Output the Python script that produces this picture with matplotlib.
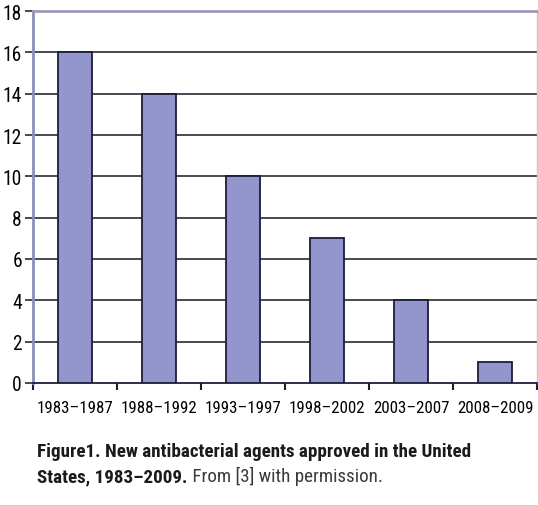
import matplotlib
matplotlib.use("Agg")
import matplotlib.pyplot as plt
from matplotlib import font_manager
import numpy as np

periods = ["1983–1987", "1988–1992", "1993–1997", "1998–2002", "2003–2007", "2008–2009"]
approved = [16, 14, 10, 7, 4, 1]
y_ticks = [0, 2, 4, 6, 8, 10, 12, 14, 16, 18]
caption_bold_1 = "Figure1. New antibacterial agents approved in the United"
caption_bold_2 = "States, 1983–2009."
caption_rest = " From [3] with permission."

# narrowest family we can find
names = set(f.name for f in font_manager.fontManager.ttflist)
fam = "DejaVu Sans"
for cand in ["Roboto Condensed", "Liberation Sans Narrow", "Open Sans Condensed", "Roboto", "Liberation Sans"]:
    if cand in names:
        fam = cand
        break
plt.rcParams["font.family"] = [fam, "DejaVu Sans"]

bar_color = "#9296cc"
edge_color = "#1c1c3c"
grid_color = "#2a2a3a"

fig = plt.figure(figsize=(5.38, 5.06), dpi=100)
ax = fig.add_axes([33 / 538, 1 - 384 / 506, 504 / 538, 372 / 506])
renderer = fig.canvas.get_renderer()


def fit_size(s, target_px, weight="normal"):
    # font size that makes the string about target_px wide
    t = fig.text(0, 0, s, fontsize=10, fontweight=weight)
    w = t.get_window_extent(renderer).width
    t.remove()
    return 10 * target_px / w


x = np.arange(len(periods))
ax.bar(x, approved, width=0.4, color=bar_color, edgecolor=edge_color, linewidth=1.3, zorder=3)

ax.set_xlim(-0.5, len(periods) - 0.5)
ax.set_ylim(0, 18)
ax.set_yticks(y_ticks)
ax.set_yticklabels([str(v) for v in y_ticks], fontsize=min(fit_size("18", 19), 15))
for v in y_ticks[1:-1]:
    ax.axhline(v, color=grid_color, lw=1.2, zorder=1)

ax.set_xticks(x)
ax.set_xticklabels(periods, fontsize=fit_size(periods[0], 76))
ax.tick_params(axis="x", length=0, pad=12)
ax.set_xticks(np.arange(-0.5, len(periods)), minor=True)
ax.tick_params(axis="x", which="minor", length=5, width=1.5, color=edge_color, direction="out")
ax.tick_params(axis="y", length=6, width=1.2, color=grid_color, pad=2)

ax.spines["left"].set_color("#8a8fb8")
ax.spines["left"].set_linewidth(2)
ax.spines["top"].set_color("#9a9cb8")
ax.spines["top"].set_linewidth(2)
ax.spines["right"].set_color("#c8c8d0")
ax.spines["right"].set_linewidth(1)
ax.spines["bottom"].set_color(edge_color)
ax.spines["bottom"].set_linewidth(1.3)

# caption
cap_fs = fit_size(caption_bold_1, 433, "bold")
fig.text(37 / 538, 1 - 457 / 506, caption_bold_1, fontsize=cap_fs, fontweight="bold",
         color="#1a1a1a", va="baseline")
t = fig.text(37 / 538, 1 - 482 / 506, caption_bold_2, fontsize=cap_fs, fontweight="bold",
             color="#1a1a1a", va="baseline")
bb = t.get_window_extent(renderer)
fig.text(bb.x1 / fig.bbox.width, 1 - 482 / 506, caption_rest, fontsize=cap_fs,
         color="#3a3a3a", va="baseline")

fig.savefig("out.png", dpi=100)
